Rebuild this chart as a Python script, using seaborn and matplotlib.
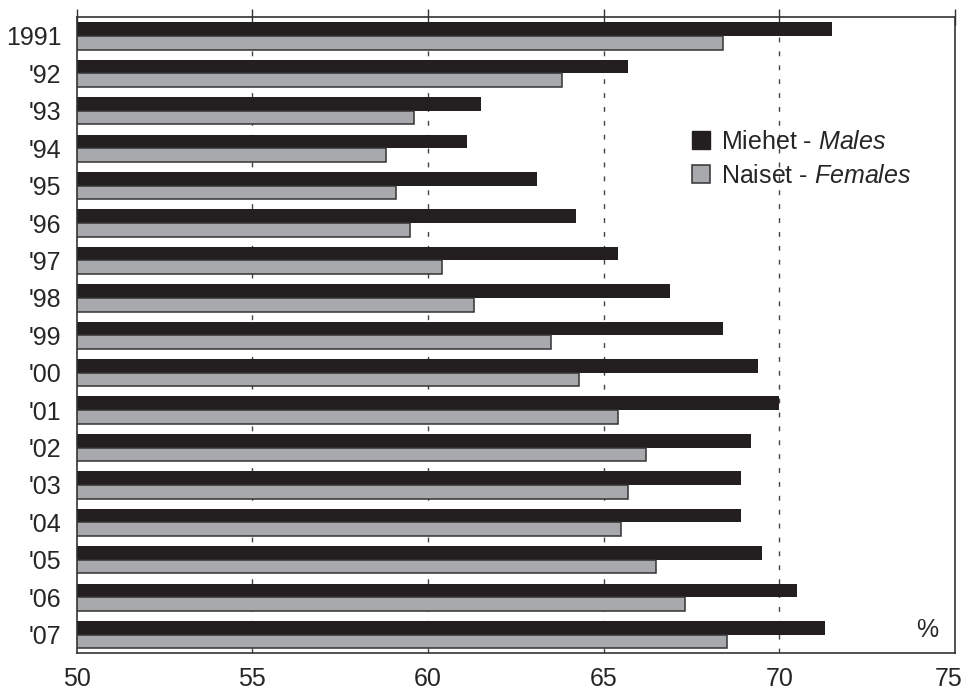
import numpy as np
import pandas as pd
import seaborn as sns
import matplotlib as mpl
mpl.use('Agg')
import matplotlib.pyplot as plt
from matplotlib.patches import Patch
from matplotlib.ticker import FixedLocator
from matplotlib.transforms import ScaledTranslation

# data (%)
years = ['1991', "'92", "'93", "'94", "'95", "'96", "'97", "'98", "'99",
         "'00", "'01", "'02", "'03", "'04", "'05", "'06", "'07"]
males = [71.5, 65.7, 61.5, 61.1, 63.1, 64.2, 65.4, 66.9, 68.4,
         69.4, 70.0, 69.2, 68.9, 68.9, 69.5, 70.5, 71.3]
females = [68.4, 63.8, 59.6, 58.8, 59.1, 59.5, 60.4, 61.3, 63.5,
           64.3, 65.4, 66.2, 65.7, 65.5, 66.5, 67.3, 68.5]
xticks = [50, 55, 60, 65, 70, 75]

black = '#231f20'
gray = '#a7a9ac'

sns.set_style('white')
plt.rcParams['font.family'] = ['Liberation Sans', 'DejaVu Sans']
plt.rcParams['mathtext.fontset'] = 'custom'
plt.rcParams['mathtext.rm'] = 'Liberation Sans'
plt.rcParams['mathtext.it'] = 'Liberation Sans:italic'

df = pd.DataFrame({'year': years * 2,
                   'value': males + females,
                   'sex': ['M'] * len(years) + ['F'] * len(years)})

fig = plt.figure(figsize=(9.63, 6.9), dpi=100)
ax = fig.add_axes([0.0797, 0.0532, 0.9120, 0.9218])

sns.barplot(data=df, x='value', y='year', hue='sex', hue_order=['M', 'F'],
            order=years, palette=[black, gray], width=0.73, saturation=1,
            legend=False, ax=ax, zorder=2)

n = len(years)
for i, p in enumerate(ax.patches):
    if i < n:
        p.set_linewidth(0)
    else:
        p.set_edgecolor('#333333')
        p.set_linewidth(1.1)

ax.set_xlim(50, 75)
ax.set_ylim(n - 0.5, -0.5)
ax.set_xlabel('')
ax.set_ylabel('')

# dashed grid lines
for xv in xticks[1:-1]:
    ax.axvline(xv, color='#444444', lw=1.0, ls=(0, (3.5, 6.5)), zorder=1)

ax.set_xticks(xticks)
ax.tick_params(axis='x', which='major', direction='in', length=4, width=1,
               color='#333333', labelsize=18, pad=10, top=True, labeltop=False)
for t in ax.xaxis.get_major_ticks():
    t.tick2line.set_marker('|')
    t.tick2line.set_markersize(11)
# last label sits a little left so it stays inside the picture
last = ax.get_xticklabels()[-1]
last.set_transform(last.get_transform() + ScaledTranslation(-6 / 100, 0, fig.dpi_scale_trans))

ax.tick_params(axis='y', which='major', length=0, labelsize=18, pad=11)
ax.yaxis.set_minor_locator(FixedLocator(np.arange(-0.5, n, 1)))
ax.tick_params(axis='y', which='minor', direction='out', length=5, width=1,
               color='#333333')

for s in ax.spines.values():
    s.set_color('#333333')
    s.set_linewidth(1.2)

handles = [Patch(facecolor=black, edgecolor=black),
           Patch(facecolor=gray, edgecolor='#333333', linewidth=1.1)]
labels = [r'Miehet - $\mathit{Males}$', r'Naiset - $\mathit{Females}$']
ax.legend(handles, labels, loc='upper left', bbox_to_anchor=(0.701, 0.823),
          frameon=False, fontsize=18, handlelength=0.7, handleheight=0.7,
          handletextpad=0.45, labelspacing=0.4, borderpad=0, borderaxespad=0)

ax.text(0.968, 0.037, '%', transform=ax.transAxes, ha='center', va='center',
        fontsize=18)

fig.savefig('out.png', dpi=100)
